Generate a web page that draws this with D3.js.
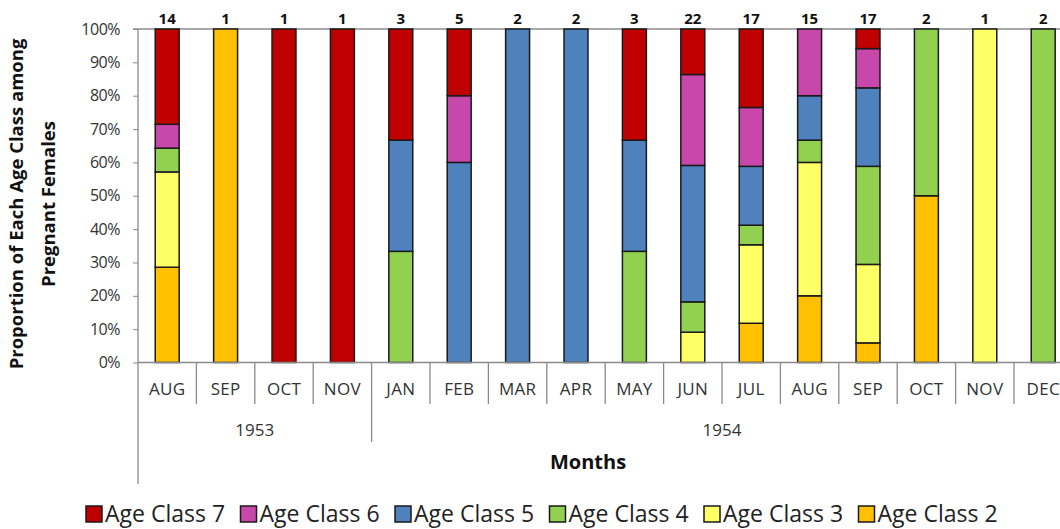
<!DOCTYPE html>
<html>
<head>
<meta charset="utf-8">
<script src="https://cdn.jsdelivr.net/npm/d3@7"></script>
<style>
  html, body { margin: 0; padding: 0; background: #fff; }
  svg { display: block; font-family: "Open Sans", sans-serif; }
</style>
</head>
<body>
<svg id="chart" width="1060" height="529"></svg>
<script>
// ---- data ----
const months = ["AUG","SEP","OCT","NOV","JAN","FEB","MAR","APR","MAY","JUN","JUL","AUG","SEP","OCT","NOV","DEC"];
const years = ["1953","1953","1953","1953","1954","1954","1954","1954","1954","1954","1954","1954","1954","1954","1954","1954"];
const sampleSizes = [14,1,1,1,3,5,2,2,3,22,17,15,17,2,1,2];
const classNames = ["Age Class 2","Age Class 3","Age Class 4","Age Class 5","Age Class 6","Age Class 7"];
const ageClass2 = [4,1,0,0,0,0,0,0,0,0,2,3,1,1,0,0];
const ageClass3 = [4,0,0,0,0,0,0,0,0,2,4,6,4,0,1,0];
const ageClass4 = [1,0,0,0,1,0,0,0,1,2,1,1,5,1,0,2];
const ageClass5 = [0,0,0,0,1,3,2,2,1,9,3,2,4,0,0,0];
const ageClass6 = [1,0,0,0,0,1,0,0,0,6,3,3,2,0,0,0];
const ageClass7 = [4,0,1,1,1,1,0,0,1,3,4,0,1,0,0,0];
const yTicks = [0,0.1,0.2,0.3,0.4,0.5,0.6,0.7,0.8,0.9,1.0];
const classColors = ["#FFC000","#FFFF66","#92D050","#4F81BD","#C847AA","#C00000"];

const series = [ageClass2, ageClass3, ageClass4, ageClass5, ageClass6, ageClass7];
const rows = months.map((m, i) => {
  const r = { idx: i };
  classNames.forEach((c, k) => r[c] = series[k][i]);
  return r;
});

// ---- layout ----
const svg = d3.select("#chart");
const x0 = 138, step = 58.4;
const n = months.length;
const x = d3.scaleBand().domain(d3.range(n)).range([x0, x0 + step * n])
  .paddingInner(0.59).paddingOuter(0.295);
const y = d3.scaleLinear().domain([0, 1]).range([362.5, 29]);
const color = d3.scaleOrdinal().domain(classNames).range(classColors);

const stacked = d3.stack().keys(classNames).offset(d3.stackOffsetExpand)(rows);

const axisColor = "#8a8a8a";

// top border line at 100%
svg.append("line").attr("x1", x0 - 5).attr("x2", x0 + step * n)
  .attr("y1", y(1)).attr("y2", y(1)).attr("stroke", "#555").attr("stroke-width", 1.2);

// bars
svg.append("g").selectAll("g").data(stacked).join("g")
  .attr("fill", d => color(d.key))
  .selectAll("rect").data(d => d.filter(s => s[1] - s[0] > 0)).join("rect")
  .attr("x", d => x(d.data.idx))
  .attr("width", x.bandwidth())
  .attr("y", d => y(d[1]))
  .attr("height", d => y(d[0]) - y(d[1]))
  .attr("stroke", "#1a1a1a").attr("stroke-width", 1.5);

// y axis
const yAxis = svg.append("g").attr("transform", `translate(${x0},0)`)
  .call(d3.axisLeft(y).tickValues(yTicks).tickFormat(d3.format(".0%")).tickSize(5).tickPadding(13));
yAxis.select(".domain").remove();
yAxis.selectAll(".tick line").attr("stroke", axisColor);
yAxis.selectAll(".tick text").attr("font-size", 16).attr("fill", "#333")
  .attr("font-family", "Open Sans").attr("letter-spacing", -0.5);

// vertical axis line (extended for group brackets)
svg.append("line").attr("x1", x0).attr("x2", x0).attr("y1", y(1)).attr("y2", 484)
  .attr("stroke", axisColor).attr("stroke-width", 1.3);

// bottom axis line
svg.append("line").attr("x1", x0).attr("x2", x0 + step * n).attr("y1", y(0)).attr("y2", y(0))
  .attr("stroke", axisColor).attr("stroke-width", 1.3);

// category dividers
const bounds = d3.range(1, n + 1);
svg.append("g").selectAll("line").data(bounds).join("line")
  .attr("x1", i => x0 + step * i).attr("x2", i => x0 + step * i)
  .attr("y1", y(0))
  .attr("y2", i => (i < n && years[i] !== years[i - 1]) ? 442 : 404)
  .attr("stroke", axisColor).attr("stroke-width", 1.3);

// month labels
svg.append("g").selectAll("text").data(months).join("text")
  .attr("x", (d, i) => x(i) + x.bandwidth() / 2)
  .attr("y", 389).attr("dy", "0.35em")
  .attr("text-anchor", "middle").attr("font-size", 17).attr("fill", "#333")
  .attr("letter-spacing", 0.3)
  .text(d => d);

// year labels
const yearGroups = d3.groups(months.map((m, i) => ({ i, yr: years[i] })), d => d.yr);
svg.append("g").selectAll("text").data(yearGroups).join("text")
  .attr("x", g => {
    const a = d3.min(g[1], d => d.i), b = d3.max(g[1], d => d.i) + 1;
    return x0 + step * (a + b) / 2;
  })
  .attr("y", 430).attr("dy", "0.35em")
  .attr("text-anchor", "middle").attr("font-size", 17).attr("fill", "#333")
  .text(g => g[0]);

// sample size labels
svg.append("g").selectAll("text").data(sampleSizes).join("text")
  .attr("x", (d, i) => x(i) + x.bandwidth() / 2)
  .attr("y", 24)
  .attr("text-anchor", "middle").attr("font-size", 15).attr("font-weight", "bold")
  .attr("fill", "#111").text(d => d);

// x title
svg.append("text").attr("x", 588).attr("y", 462).attr("dy", "0.35em")
  .attr("text-anchor", "middle").attr("font-size", 20).attr("font-weight", "bold")
  .attr("fill", "#111").text("Months");

// y title
const yt = svg.append("text").attr("transform", "translate(0,204) rotate(-90)")
  .attr("text-anchor", "middle").attr("font-size", 18.5).attr("font-weight", "bold").attr("fill", "#111");
yt.append("tspan").attr("x", 0).attr("y", 23).text("Proportion of Each Age Class among");
yt.append("tspan").attr("x", 0).attr("y", 55).text("Pregnant Females");

// legend
const legendOrder = classNames.slice().reverse();
const lg = svg.append("g").selectAll("g").data(legendOrder).join("g")
  .attr("transform", (d, i) => `translate(${86 + i * 154.5},506)`);
lg.append("rect").attr("width", 16).attr("height", 16)
  .attr("fill", d => color(d)).attr("stroke", "#1a1a1a").attr("stroke-width", 1.5);
lg.append("text").attr("x", 19).attr("y", 8).attr("dy", "0.36em")
  .attr("font-size", 23).attr("fill", "#222").text(d => d);
</script>
</body>
</html>
